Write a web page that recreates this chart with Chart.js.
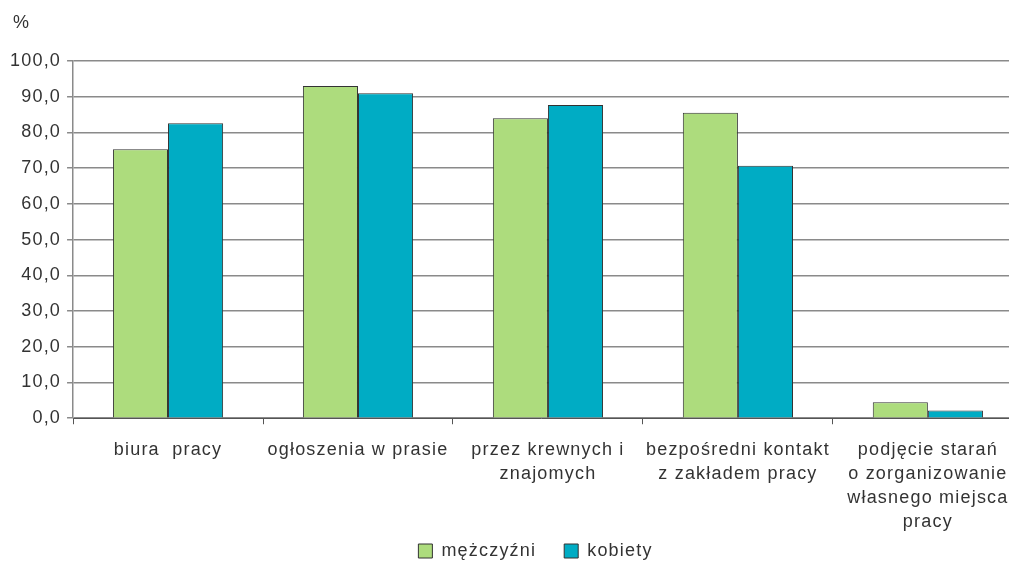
<!DOCTYPE html>
<html>
<head>
<meta charset="utf-8">
<script src="https://cdn.jsdelivr.net/npm/chart.js@4/dist/chart.umd.min.js"></script>
<style>
  html, body { margin: 0; padding: 0; background: #ffffff; }
  #wrap { width: 1009px; height: 562px; }
</style>
</head>
<body>
<div id="wrap"><canvas id="barChart"></canvas></div>
<script>
// categories and values
var categories = [
  "biura  pracy",
  "ogłoszenia w prasie",
  ["przez krewnych i", "znajomych"],
  ["bezpośredni kontakt", "z zakładem pracy"],
  ["podjęcie starań", "o zorganizowanie", "własnego miejsca", "pracy"]
];
var men = [75.3, 93.0, 84.0, 85.5, 4.5];
var women = [82.6, 91.0, 87.7, 70.7, 2.2];
var seriesNames = ["mężczyźni", "kobiety"];

Chart.defaults.font.family = "'Liberation Sans', Arial, sans-serif";
Chart.defaults.color = "#333333";

// the original text is a bit spaced out, canvas state gets reset on resize so set it every time
var tweaks = {
  id: "tweaks",
  beforeUpdate: function (chart) { chart.ctx.letterSpacing = "1.2px"; },
  beforeDraw: function (chart) { chart.ctx.letterSpacing = "1.2px"; },
  afterLayout: function (chart) {
    // the plot runs past the right edge of the picture in the original
    var x = chart.scales.x;
    x.right += 15;
    x.width += 15;
    chart.chartArea.right += 15;
    chart.chartArea.width += 15;
    x.configure();
    // legend sits a bit right of centre and tucked up under the labels
    var lg = chart.legend;
    lg.left += 29; lg.right += 29;
    lg.top -= 34; lg.bottom -= 34;
  }
};

// draws the "%" unit above the y axis
var unitLabel = {
  id: "unitLabel",
  afterDraw: function (chart) {
    var c = chart.ctx;
    c.save();
    c.font = "18px 'Liberation Sans', Arial, sans-serif";
    c.fillStyle = "#333333";
    c.textAlign = "left";
    c.textBaseline = "middle";
    c.fillText("%", 13, 23);
    c.restore();
  }
};

var ctx = document.getElementById("barChart").getContext("2d");
var barChart = new Chart(ctx, {
  type: "bar",
  data: {
    labels: categories,
    datasets: [{
      label: seriesNames[0],
      data: men,
      backgroundColor: "#addc7d",
      borderColor: "#333333",
      borderWidth: 1
    }, {
      label: seriesNames[1],
      data: women,
      backgroundColor: "#00acc4",
      borderColor: "#333333",
      borderWidth: 1
    }]
  },
  plugins: [tweaks, unitLabel],
  options: {
    responsive: true,
    maintainAspectRatio: false,
    animation: false,
    layout: { padding: { top: 61, left: 4, right: 0, bottom: -42 } },
    datasets: { bar: { categoryPercentage: 0.58, barPercentage: 1.0 } },
    scales: {
      x: {
        grid: { display: true, drawOnChartArea: false, color: "#555555", tickLength: 6 },
        border: { display: true, color: "#555555", width: 1 },
        ticks: {
          font: { size: 18, lineHeight: 1.33 },
          color: "#333333",
          maxRotation: 0,
          autoSkip: false,
          padding: 14
        }
      },
      y: {
        min: 0,
        max: 100,
        ticks: {
          stepSize: 10,
          font: { size: 18 },
          color: "#333333",
          padding: 6,
          callback: function (v) { return v.toFixed(1).replace(".", ","); }
        },
        grid: { color: "#8a8a8a", lineWidth: 1.5, tickLength: 6 },
        border: { display: true, color: "#8a8a8a", width: 1.5 }
      }
    },
    plugins: {
      legend: {
        position: "bottom",
        labels: {
          font: { size: 18 },
          color: "#333333",
          boxWidth: 14,
          boxHeight: 14,
          padding: 28
        }
      },
      tooltip: { enabled: false }
    }
  }
});
</script>
</body>
</html>
